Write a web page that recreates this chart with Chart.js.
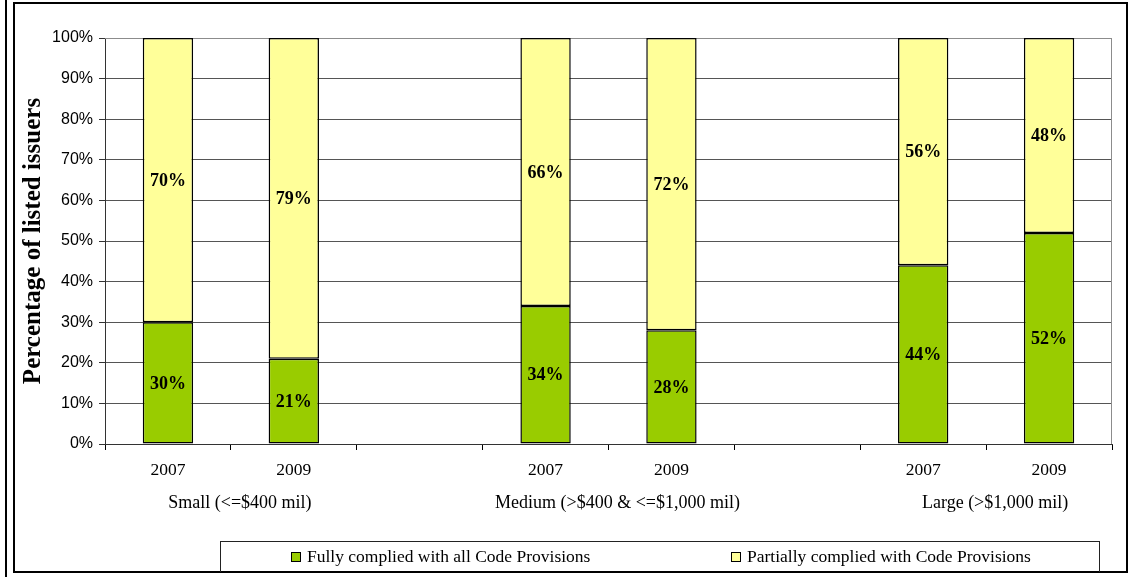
<!DOCTYPE html>
<html>
<head>
<meta charset="utf-8">
<script src="https://cdn.jsdelivr.net/npm/chart.js@4.4.1/dist/chart.umd.min.js"></script>
<style>
    body { margin: 0; background: #fff; }
    #wrap { position: relative; width: 1134px; height: 577px; overflow: hidden; background: #fff; }
    #chartCanvas { position: absolute; left: 0; top: 0; }
    .edge { position: absolute; left: 5px; top: 0; width: 2px; height: 577px; background: #000; }
    .frame { position: absolute; left: 13px; top: 2px; width: 1115px; height: 571px; box-sizing: border-box; border: 2px solid #000; }
    #legendBox {
        position: absolute; left: 220px; top: 541px; width: 880px; height: 31px;
        box-sizing: border-box; border: 1px solid #222; border-bottom: none;
        font-family: "Liberation Serif", "Times New Roman", serif; font-size: 17.5px; color: #000;
    }
    .legend-item { position: absolute; top: 4px; display: flex; align-items: center; white-space: nowrap; }
    .legend-swatch { width: 8px; height: 8px; border: 1px solid #000; margin-right: 6px; }
</style>
</head>
<body>
<div id="wrap">
    <div class="edge"></div>
    <div class="frame"></div>
    <canvas id="chartCanvas" width="1134" height="577"></canvas>
    <div id="legendBox"></div>
</div>
<script>
const yearLabels = ["2007", "2009", "", "2007", "2009", "", "2007", "2009"];
const groupLabels = ["Small (<=$400 mil)", "Medium (>$400 & <=$1,000 mil)", "Large (>$1,000 mil)"];
const fullyComplied = [30, 21, null, 34, 28, null, 44, 52];
const partiallyComplied = [70, 79, null, 66, 72, null, 56, 48];
const yTicks = [0, 10, 20, 30, 40, 50, 60, 70, 80, 90, 100];

const seriesNames = ["Fully complied with all Code Provisions", "Partially complied with Code Provisions"];
const seriesColors = ["#99CC00", "#FFFF99"];

const serif = '"Liberation Serif", "Times New Roman", serif';
const sans = '"Liberation Sans", Arial, sans-serif';

// group axis: one slot per category boundary, each group name on the boundary
// between its 2007 and 2009 bars
const groupSlots = new Array(yearLabels.length + 1).fill("");
let g = 0;
yearLabels.forEach((lab, i) => { if (lab === "2007") groupSlots[i + 1] = groupLabels[g++]; });

// value labels in the middle of each segment
const segmentLabels = {
    id: "segmentLabels",
    afterDatasetsDraw(chart) {
        const ctx = chart.ctx;
        ctx.save();
        ctx.font = "bold 18px " + serif;
        ctx.fillStyle = "#000";
        ctx.textAlign = "center";
        ctx.textBaseline = "middle";
        chart.data.datasets.forEach((ds, i) => {
            chart.getDatasetMeta(i).data.forEach((bar, j) => {
                const v = ds.data[j];
                if (v == null) return;
                ctx.fillText(v + "%", bar.x, (bar.y + bar.base) / 2 + 1);
            });
        });
        ctx.restore();
    }
};

// grey top and right edges of the plot area
const plotEdges = {
    id: "plotEdges",
    beforeDatasetsDraw(chart) {
        const { ctx, chartArea: a } = chart;
        ctx.save();
        ctx.strokeStyle = "#8c8c8c";
        ctx.lineWidth = 1;
        ctx.beginPath();
        ctx.moveTo(a.left, a.top + 0.5);
        ctx.lineTo(a.right - 0.5, a.top + 0.5);
        ctx.lineTo(a.right - 0.5, a.bottom);
        ctx.stroke();
        ctx.restore();
    }
};

const barStyle = { borderColor: "#000", borderWidth: 1.5, borderSkipped: false, barPercentage: 0.4, categoryPercentage: 1 };

const ctx = document.getElementById("chartCanvas").getContext("2d");
const chart = new Chart(ctx, {
    type: "bar",
    data: {
        labels: yearLabels,
        datasets: [
            { label: seriesNames[0], data: fullyComplied, backgroundColor: seriesColors[0], ...barStyle },
            { label: seriesNames[1], data: partiallyComplied, backgroundColor: seriesColors[1], ...barStyle }
        ]
    },
    options: {
        responsive: false,
        animation: false,
        layout: { padding: { left: 15, right: 22, top: 38, bottom: 58 } },
        plugins: {
            legend: { display: false },
            tooltip: { enabled: false }
        },
        scales: {
            x: {
                stacked: true,
                offset: true,
                weight: 0,
                grid: { offset: true, drawOnChartArea: false, tickLength: 6, color: "#000" },
                border: { color: "#333" },
                ticks: { font: { family: serif, size: 17.5 }, color: "#000", padding: 10, maxRotation: 0, autoSkip: false },
                afterFit(scale) { scale.height = 40; }
            },
            grp: {
                type: "category",
                labels: groupSlots,
                position: "bottom",
                weight: 1,
                offset: false,
                grid: { display: false },
                border: { display: false },
                ticks: {
                    autoSkip: false,
                    maxRotation: 0,
                    padding: 0,
                    labelOffset: 9,
                    font: { family: serif, size: 18 },
                    color: "#000"
                },
                afterFit(scale) { scale.height = 35; }
            },
            y: {
                stacked: true,
                min: 0,
                max: 100,
                afterBuildTicks(scale) { scale.ticks = yTicks.map(v => ({ value: v })); },
                grid: {
                    color: c => (c.tick && c.tick.value === 100 ? "#8c8c8c" : "#555"),
                    tickColor: "#333",
                    tickLength: 6
                },
                border: { color: "#333" },
                ticks: {
                    font: { family: sans, size: 16 },
                    color: "#000",
                    padding: 6,
                    callback: v => v + "%"
                },
                title: {
                    display: true,
                    text: "Percentage of listed issuers",
                    font: { family: serif, size: 25, weight: "bold" },
                    color: "#000",
                    padding: { top: 4, bottom: 0 }
                },
                afterFit(scale) { scale.width = 90; }
            }
        }
    },
    plugins: [plotEdges, segmentLabels]
});

// legend box below the chart, built from the datasets
const legendBox = document.getElementById("legendBox");
const legendLeft = [70, 510];
chart.data.datasets.forEach((ds, i) => {
    const item = document.createElement("div");
    item.className = "legend-item";
    item.style.left = legendLeft[i] + "px";
    item.innerHTML = `<span class="legend-swatch" style="background:${ds.backgroundColor}"></span><span>${ds.label}</span>`;
    legendBox.appendChild(item);
});
</script>
</body>
</html>
